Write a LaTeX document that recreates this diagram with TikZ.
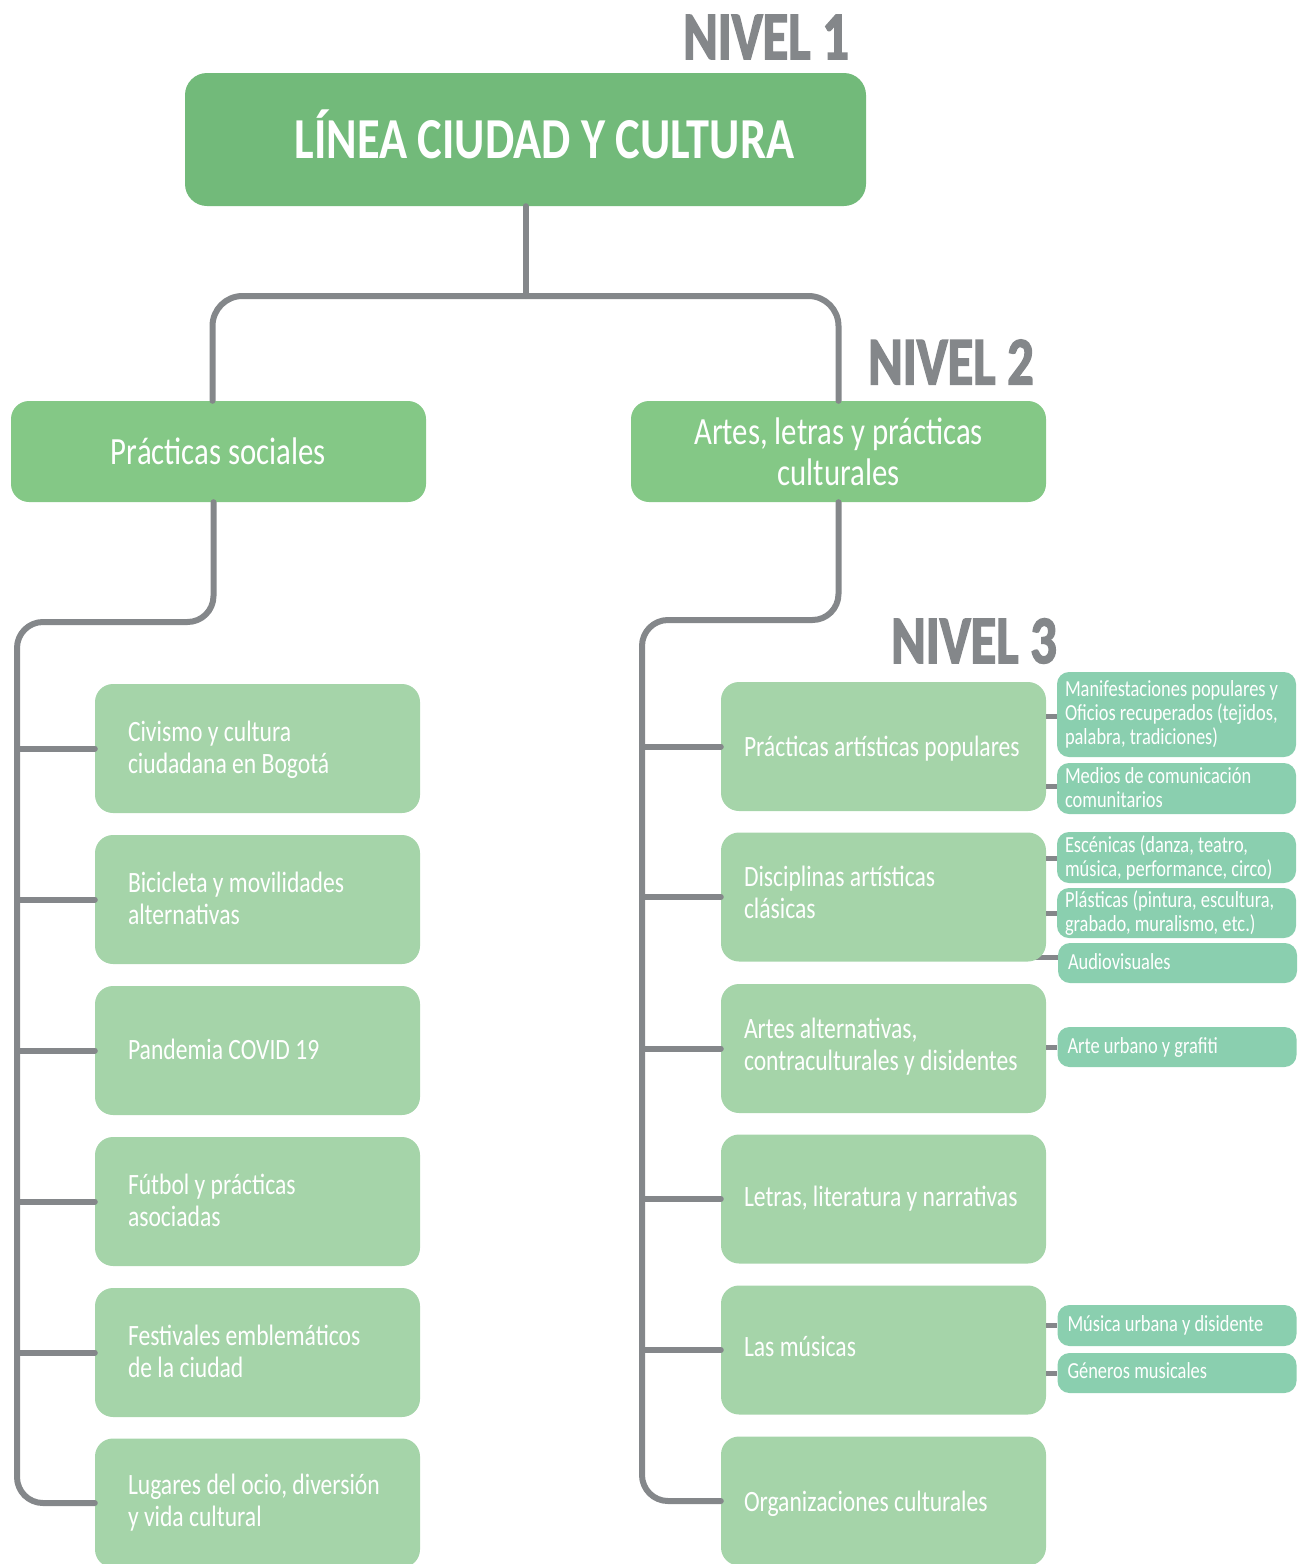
\documentclass[tikz,border=0pt]{standalone}
\usepackage{fontspec}
\setmainfont{Carlito}[FakeStretch=0.8]
\newfontfamily\nivelfont{Carlito}[FakeStretch=0.77, BoldFeatures={FakeBold=2.2}]
\usetikzlibrary{calc,backgrounds}
\definecolor{cTop}{HTML}{72BA7A}
\definecolor{cTwo}{HTML}{84C886}
\definecolor{cThree}{HTML}{A5D4A9}
\definecolor{cSub}{HTML}{8ACFAF}
\definecolor{cGray}{HTML}{84878A}
\newcommand\ltext[4][0pt]{\makebox[#2][l]{\hspace*{#3}\raisebox{-#1}[\height][\depth]{\begin{tabular}{@{}l@{}}#4\end{tabular}}}}
\begin{document}
\begin{tikzpicture}[x=1pt,y=-1pt,
 every node/.style={inner sep=0pt, text=white},
 topbox/.style={fill=cTop, rounded corners=22pt, minimum width=681pt, minimum height=133pt, text height=37pt, text depth=0pt, font=\fontsize{58}{60}\selectfont\bfseries},
 twobox/.style={fill=cTwo, rounded corners=18pt, minimum width=415pt, minimum height=101pt, align=center, font=\fontsize{38.5}{41}\selectfont},
 threebox/.style={fill=cThree, rounded corners=18pt, minimum width=325pt, minimum height=129pt, font=\fontsize{29.5}{32}\selectfont},
 subbox/.style={fill=cSub, rounded corners=12pt, minimum width=239pt, font=\fontsize{23}{24}\selectfont},
 nivel/.style={text=cGray, font=\fontsize{68}{68}\selectfont\nivelfont\bfseries},
 tree/.style={draw=cGray, line width=6pt, line cap=round, line join=round, rounded corners=26pt},
 twig/.style={draw=cGray, line width=6pt, line cap=round},
 subtwig/.style={draw=cGray, line width=5pt},
]
\useasboundingbox (0,0) rectangle (1304,1564);
\clip (0,0) rectangle (1304,1564);

% headings
\node[nivel] (n1) at (766,37) {NIVEL 1};
\node[nivel] (n2) at (951,362) {NIVEL 2};
\node[nivel] (n3) at (974,641) {NIVEL 3};

% level 1
\node[topbox] (top) at (525.5,139.5) {\hspace*{38pt}LÍNEA CIUDAD Y CULTURA};

% level 2
\node[twobox] (ps) at (218.5,451.5) {Prácticas sociales};
\node[twobox] (al) at (838.5,451.5) {Artes, letras y prácticas\\culturales};

% level 3 left
\node[threebox] (l1) at (257.5,748.5) {\ltext[3pt]{325pt}{33pt}{Civismo y cultura\\ciudadana en Bogotá}};
\node[threebox] (l2) at (257.5,899.5) {\ltext[3pt]{325pt}{33pt}{Bicicleta y movilidades\\alternativas}};
\node[threebox] (l3) at (257.5,1050.5) {\ltext[3pt]{325pt}{33pt}{Pandemia COVID 19}};
\node[threebox] (l4) at (257.5,1201.5) {\ltext[3pt]{325pt}{33pt}{Fútbol y prácticas\\asociadas}};
\node[threebox] (l5) at (257.5,1352.5) {\ltext[3pt]{325pt}{33pt}{Festivales emblemáticos\\de la ciudad}};
\node[threebox] (l6) at (257.5,1503) {\ltext[1pt]{325pt}{33pt}{Lugares del ocio, diversión\\y vida cultural}};

% level 3 right
\node[threebox] (r1) at (883.5,746.5) {\ltext[4pt]{325pt}{23pt}{Prácticas artísticas populares}};
\node[threebox] (r2) at (883.5,897) {\ltext[-1pt]{325pt}{23pt}{Disciplinas artísticas\\clásicas}};
\node[threebox] (r3) at (883.5,1048.5) {\ltext[0pt]{325pt}{23pt}{Artes alternativas,\\contraculturales y disidentes}};
\node[threebox] (r4) at (883.5,1199) {\ltext[1pt]{325pt}{23pt}{Letras, literatura y narrativas}};
\node[threebox] (r5) at (883.5,1350) {\ltext[0pt]{325pt}{23pt}{Las músicas}};
\node[threebox] (r6) at (883.5,1501) {\ltext[4pt]{325pt}{23pt}{Organizaciones culturales}};

% sub-items
\node[subbox, minimum height=85pt] (s1) at (1176.5,714.5) {\ltext[1pt]{239pt}{8pt}{Manifestaciones populares y\\Oficios recuperados (tejidos,\\palabra, tradiciones)}};
\node[subbox, minimum height=51pt] (s2) at (1176.5,788.5) {\ltext[2pt]{239pt}{8pt}{Medios de comunicación\\comunitarios}};
\node[subbox, minimum height=51pt] (s3) at (1176.5,857.5) {\ltext[2pt]{239pt}{8pt}{Escénicas (danza, teatro,\\música, performance, circo)}};
\node[subbox, minimum height=50pt] (s4) at (1176.5,913) {\ltext[2pt]{239pt}{8pt}{Plásticas (pintura, escultura,\\grabado, muralismo, etc.)}};
\node[subbox, minimum height=40pt] (s5) at (1177.5,963) {\ltext[2pt]{239pt}{10pt}{Audiovisuales}};
\node[subbox, minimum height=40pt] (s6) at (1177,1047) {\ltext[2pt]{239pt}{10pt}{Arte urbano y grafiti}};
\node[subbox, minimum height=41pt] (s7) at (1177,1325.5) {\ltext[1pt]{239pt}{10pt}{Música urbana y disidente}};
\node[subbox, minimum height=40pt] (s8) at (1177,1373) {\ltext[1pt]{239pt}{10pt}{Géneros musicales}};

% connectors
\coordinate (hy) at (0,296);
\coordinate (lc) at (17,622);
\coordinate (rc) at (642,620);

\draw[twig] (top.south) -- (top.south |- hy);
\draw[tree, rounded corners=30pt] ([xshift=-6pt]ps.north) -- ([xshift=-6pt]ps.north |- hy) -- (al.north |- hy) -- (al.north);

\draw[tree] ([xshift=-5pt]ps.south) -- ([xshift=-5pt]ps.south |- lc) -- (lc) -- (lc |- l6.west) -- (l6.west);
\foreach \b in {l1,l2,l3,l4,l5} \draw[twig] (lc |- \b.west) -- (\b.west);

\draw[tree] (al.south) -- (al.south |- rc) -- (rc) -- (rc |- r6.west) -- (r6.west);
\foreach \b in {r1,r2,r3,r4,r5} \draw[twig] (rc |- \b.west) -- (\b.west);

\draw[subtwig] ($(r1.east |- s1.west)+(0,2)$) -- ($(s1.west)+(0,2)$);
\draw[subtwig] ($(r1.east |- s2.west)+(0,-2)$) -- ($(s2.west)+(0,-2)$);
\draw[subtwig] ($(r2.east |- s3.west)+(0,1)$) -- ($(s3.west)+(0,1)$);
\draw[subtwig] (r2.east |- s4.west) -- (s4.west);
\begin{pgfonlayer}{background}
\draw[subtwig] ($(r2.east |- s5.west)+(-14,-6)$) -- ($(s5.west)+(0,-6)$);
\end{pgfonlayer}
\draw[subtwig] (r3.east |- s6.west) -- (s6.west);
\draw[subtwig] (r5.east |- s7.west) -- (s7.west);
\draw[subtwig] (r5.east |- s8.west) -- (s8.west);
\end{tikzpicture}
\end{document}
